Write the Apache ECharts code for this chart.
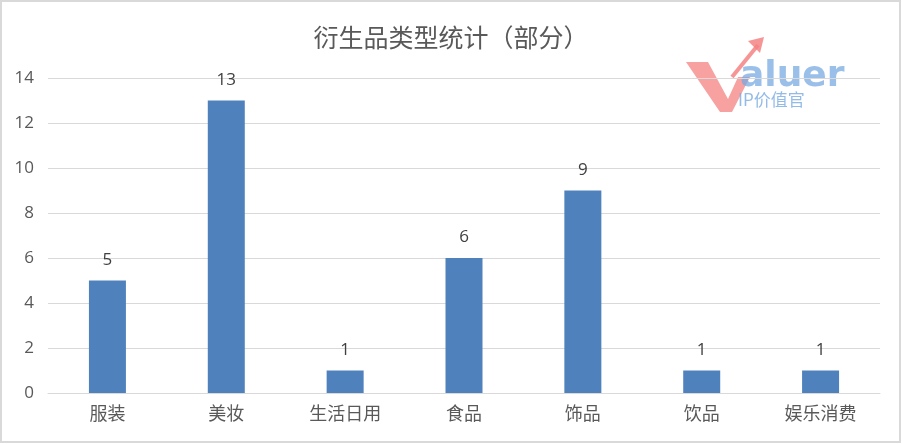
<!DOCTYPE html>
<html><head><meta charset="utf-8">
<script src="https://cdn.jsdelivr.net/npm/echarts@6/dist/echarts.min.js"></script>
<style>html,body{margin:0;padding:0;background:#fff}#c{width:902px;height:444px}</style>
</head><body><div id="c"></div>
<script>
const categories = ['服装','美妆','生活日用','食品','饰品','饮品','娱乐消费'];
const counts = [5,13,1,6,9,1,1];
const yTicks = {min:0,max:14,interval:2};
const titleText = '衍生品类型统计（部分）';

const chart = echarts.init(document.getElementById('c'));
const font = '"Microsoft YaHei","Noto Sans CJK SC",sans-serif';
chart.setOption({
  animation:false,
  backgroundColor:'#fff',
  title:{text:titleText,left:'center',top:20,textStyle:{fontFamily:font,fontSize:25,fontWeight:'normal',color:'#595959'}},
  grid:{left:48,right:22,top:78,bottom:51,containLabel:false},
  xAxis:{type:'category',data:categories,
    axisLine:{lineStyle:{color:'#d9d9d9',width:1}},axisTick:{show:false},
    axisLabel:{color:'#595959',fontSize:18,fontFamily:font,margin:11}},
  yAxis:{type:'value',min:yTicks.min,max:yTicks.max,interval:yTicks.interval,
    axisLine:{show:false},axisTick:{show:false},
    axisLabel:{color:'#595959',fontSize:17,fontFamily:'"Open Sans","Noto Sans",sans-serif',margin:14},
    splitLine:{show:true,lineStyle:{color:'#d9d9d9',width:1}}},
  series:[{type:'bar',data:counts,barWidth:37,itemStyle:{color:'#4f81bd'},
    label:{show:true,position:'top',distance:12,color:'#404040',fontSize:17,fontFamily:'"Open Sans","Noto Sans",sans-serif'}}],
  graphic:[
    {type:'rect',shape:{x:1,y:1,width:899,height:441},style:{fill:'none',stroke:'#d9d9d9',lineWidth:2},silent:true,z:100},
    {type:'group',left:686,top:37,z:-1,children:[
      {type:'polygon',shape:{points:[[0,25],[22,25],[42,62],[52,40],[64,40],[46,75],[34,75]]},style:{fill:'rgba(245,130,130,0.75)'}},
      {type:'polyline',shape:{points:[[46,40],[72,8]]},style:{stroke:'rgba(245,130,130,0.85)',lineWidth:4}},
      {type:'polygon',shape:{points:[[62,4],[78,0],[74,16]]},style:{fill:'rgba(245,130,130,0.85)'}},
      {type:'text',style:{x:54,y:22,text:'aluer',fill:'rgba(120,170,225,0.75)',font:'bold 36px "DejaVu Sans",sans-serif'}},
      {type:'text',style:{x:52,y:54,text:'IP价值官',fill:'rgba(120,170,225,0.8)',font:'17px "Noto Sans CJK SC",sans-serif'}}
    ]}
  ]
});
</script></body></html>
